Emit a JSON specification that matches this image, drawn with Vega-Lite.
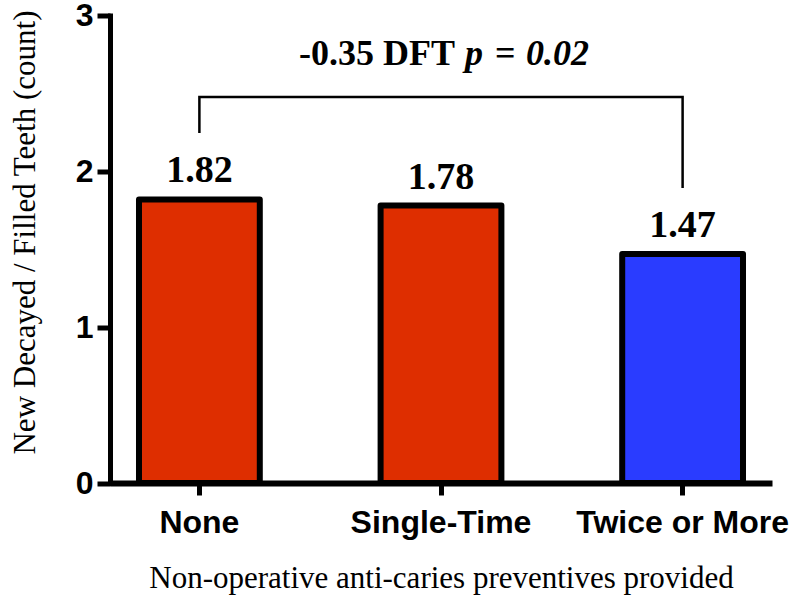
{
  "$schema": "https://vega.github.io/schema/vega-lite/v6.json",
  "width": 662,
  "height": 467.5,
  "autosize": "none",
  "padding": {"left": 110, "top": 15.5, "right": 28, "bottom": 117},
  "background": "white",
  "config": {"view": {"stroke": null}},
  "datasets": {
    "bars": [
      {"group": "None", "value": 1.82},
      {"group": "Single-Time", "value": 1.78},
      {"group": "Twice or More", "value": 1.47}
    ],
    "bracket": [
      {"group": "None", "y": 2.246, "order": 1},
      {"group": "None", "y": 2.477, "order": 2},
      {"group": "Twice or More", "y": 2.477, "order": 3},
      {"group": "Twice or More", "y": 1.893, "order": 4}
    ],
    "annot": [
      {"group": "Single-Time", "y": 2.682, "diff": "-0.35 DFT", "p": "p", "eq": "=", "pval": "0.02"}
    ]
  },
  "layer": [
    {
      "data": {"name": "bars"},
      "mark": {"type": "bar", "stroke": "black", "strokeWidth": 6, "strokeJoin": "round"},
      "encoding": {
        "x": {
          "field": "group", "type": "nominal", "sort": null,
          "scale": {"paddingInner": 0.5, "paddingOuter": 0.12},
          "axis": {
            "labelAngle": 0, "labelFont": "Liberation Sans", "labelFontWeight": "bold", "labelFontSize": 32, "labelColor": "black",
            "labelLimit": 0, "labelPadding": 12, "domainColor": "black", "domainWidth": 6, "tickColor": "black", "tickWidth": 5, "tickSize": 12,
            "title": "Non-operative anti-caries preventives provided",
            "titleFont": "Liberation Serif", "titleFontWeight": "normal", "titleFontSize": 31, "titleColor": "black", "titlePadding": 25
          }
        },
        "y": {
          "field": "value", "type": "quantitative",
          "scale": {"domain": [0, 3], "nice": false},
          "axis": {
            "values": [0, 1, 2, 3], "format": "d", "grid": false,
            "labelFont": "Liberation Sans", "labelFontWeight": "bold", "labelFontSize": 32, "labelColor": "black", "labelPadding": 4,
            "labelOverlap": false, "labelFlush": false,
            "domainColor": "black", "domainWidth": 5, "domainCap": "square", "tickColor": "black", "tickWidth": 5, "tickSize": 13,
            "title": "New Decayed / Filled Teeth (count)",
            "titleFont": "Liberation Serif", "titleFontWeight": "normal", "titleFontSize": 31, "titleColor": "black",
            "titleAngle": 270, "titleAlign": "center", "titleBaseline": "alphabetic", "titleX": -76, "titleY": 216.5
          }
        },
        "color": {
          "field": "group", "type": "nominal", "legend": null,
          "scale": {"domain": ["None", "Single-Time", "Twice or More"], "range": ["#DE2E00", "#DE2E00", "#2A3CFF"]}
        }
      }
    },
    {
      "data": {"name": "bars"},
      "mark": {"type": "text", "font": "Liberation Serif", "fontWeight": "bold", "fontSize": 38, "baseline": "alphabetic", "dy": -17, "color": "black"},
      "encoding": {
        "x": {"field": "group", "type": "nominal", "sort": null},
        "y": {"field": "value", "type": "quantitative"},
        "text": {"field": "value", "type": "quantitative", "format": ".2f"}
      }
    },
    {
      "data": {"name": "bracket"},
      "mark": {"type": "line", "color": "black", "strokeWidth": 2.5, "strokeJoin": "miter"},
      "encoding": {
        "x": {"field": "group", "type": "nominal", "sort": null},
        "y": {"field": "y", "type": "quantitative"},
        "order": {"field": "order", "type": "quantitative"}
      }
    },
    {
      "data": {"name": "annot"},
      "mark": {"type": "text", "font": "Liberation Serif", "fontWeight": "bold", "fontSize": 36, "baseline": "alphabetic", "align": "right", "dx": 14, "color": "black"},
      "encoding": {
        "x": {"field": "group", "type": "nominal", "sort": null},
        "y": {"field": "y", "type": "quantitative"},
        "text": {"field": "diff"}
      }
    },
    {
      "data": {"name": "annot"},
      "mark": {"type": "text", "font": "Liberation Serif", "fontWeight": "bold", "fontStyle": "italic", "fontSize": 36, "baseline": "alphabetic", "align": "left", "dx": 24, "color": "black"},
      "encoding": {
        "x": {"field": "group", "type": "nominal", "sort": null},
        "y": {"field": "y", "type": "quantitative"},
        "text": {"field": "p"}
      }
    },
    {
      "data": {"name": "annot"},
      "mark": {"type": "text", "font": "Liberation Serif", "fontWeight": "bold", "fontSize": 36, "baseline": "alphabetic", "align": "left", "dx": 54, "color": "black"},
      "encoding": {
        "x": {"field": "group", "type": "nominal", "sort": null},
        "y": {"field": "y", "type": "quantitative"},
        "text": {"field": "eq"}
      }
    },
    {
      "data": {"name": "annot"},
      "mark": {"type": "text", "font": "Liberation Serif", "fontWeight": "bold", "fontStyle": "italic", "fontSize": 36, "baseline": "alphabetic", "align": "left", "dx": 85, "color": "black"},
      "encoding": {
        "x": {"field": "group", "type": "nominal", "sort": null},
        "y": {"field": "y", "type": "quantitative"},
        "text": {"field": "pval"}
      }
    }
  ]
}
